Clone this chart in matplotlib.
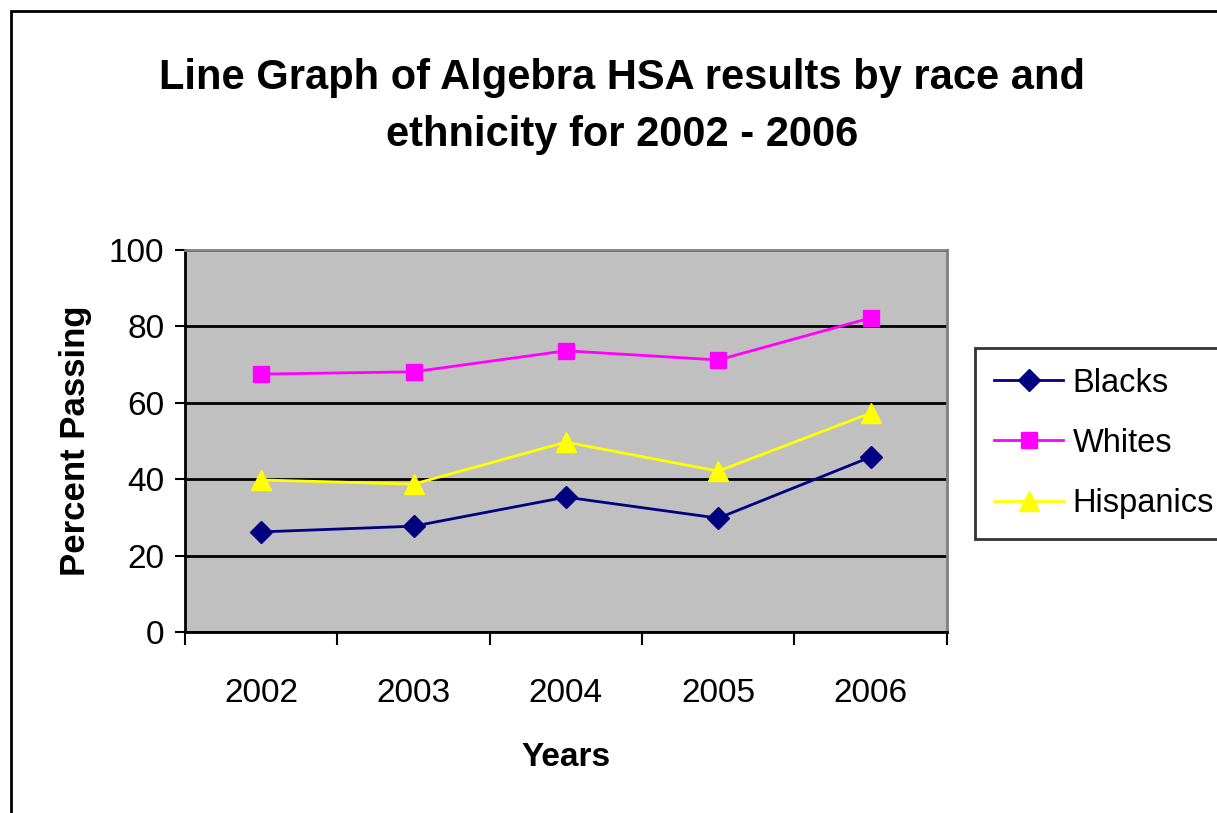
import matplotlib
matplotlib.use('Agg')
import matplotlib.pyplot as plt
from matplotlib.patches import Rectangle

plt.rcParams['font.family'] = ['Liberation Sans', 'DejaVu Sans']

# HSA algebra pass rates
years = ['2002', '2003', '2004', '2005', '2006']
blacks = [26.2, 27.7, 35.3, 29.8, 45.8]
whites = [67.5, 68.1, 73.6, 71.2, 82.2]
hispanics = [39.8, 38.7, 49.7, 42.1, 57.3]

fig = plt.figure(figsize=(12.17, 8.13), dpi=100)
ax = fig.add_axes([0.152, 0.2226, 0.626, 0.47])
ax.set_facecolor('#C0C0C0')

x = list(range(len(years)))
ax.plot(x, blacks, color='#000080', marker='D', markersize=11, lw=2,
        label='Blacks', zorder=3)
ax.plot(x, whites, color='#FF00FF', marker='s', markersize=11, lw=2,
        label='Whites', zorder=3)
ax.plot(x, hispanics, color='#FFFF00', marker='^', markersize=14, lw=2,
        label='Hispanics', zorder=3)

ax.set_xlim(-0.5, len(years) - 0.5)
ax.set_ylim(0, 100)

# gridlines
ax.set_yticks([0, 20, 40, 60, 80, 100])
ax.yaxis.grid(True, color='black', lw=2)
ax.set_axisbelow(True)
ax.tick_params(axis='y', labelsize=24, length=7, width=1.5, pad=8)

# category boundaries get the tick marks, labels sit at the centres
ax.set_xticks([i - 0.5 for i in range(len(years) + 1)])
ax.set_xticklabels([])
ax.set_xticks(x, minor=True)
ax.set_xticklabels(years, minor=True)
ax.tick_params(axis='x', which='major', length=9, width=1.5)
ax.tick_params(axis='x', which='minor', length=0, labelsize=24, pad=33)

for side in ['left', 'bottom']:
    ax.spines[side].set_color('black')
    ax.spines[side].set_linewidth(2)
for side in ['top', 'right']:
    ax.spines[side].set_color('#808080')
    ax.spines[side].set_linewidth(2)

ax.set_xlabel('Years', fontsize=24, fontweight='bold', labelpad=24)
ax.set_ylabel('Percent Passing', fontsize=25, fontweight='bold', labelpad=12)

fig.text(0.511, 0.8685, 'Line Graph of Algebra HSA results by race and\nethnicity for 2002 - 2006',
         ha='center', va='center', fontsize=30, fontweight='bold', linespacing=1.55)

leg = fig.legend(loc='upper left', bbox_to_anchor=(0.801, 0.572), fontsize=23.5,
                 frameon=True, fancybox=False, edgecolor='black', borderpad=0.6,
                 handlelength=2.1, handletextpad=0.3, labelspacing=0.9,
                 borderaxespad=0)
leg.get_frame().set_linewidth(2)

# outer chart border
fig.patches.append(Rectangle((0.009, -0.1), 1.2, 0.9865 + 0.1, transform=fig.transFigure,
                             fill=False, edgecolor='black', lw=2))

fig.savefig('out.png', dpi=100)
